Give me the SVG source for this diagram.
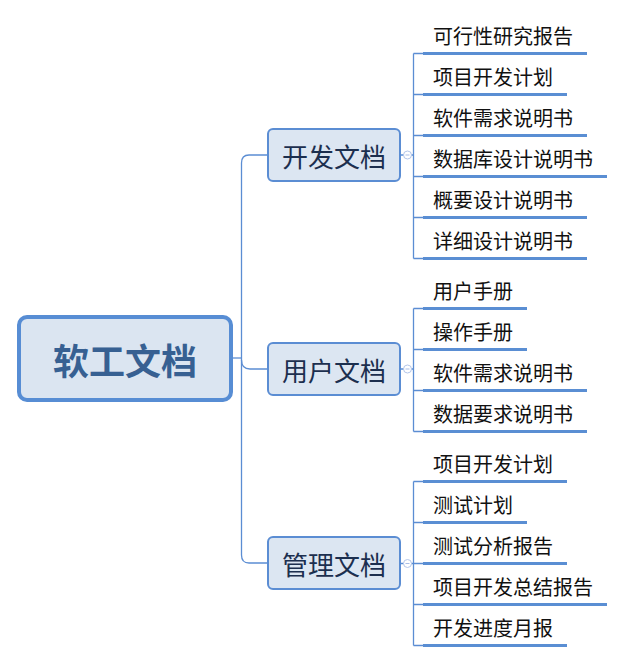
<svg xmlns="http://www.w3.org/2000/svg" width="624" height="662" viewBox="0 0 624 662">
<style>
.conn{fill:none;stroke:#5b8dd3;stroke-width:1.3}
.ul{fill:none;stroke:#5a8ed3;stroke-width:3}
.root{fill:#dbe5f1;stroke:#578dd4;stroke-width:4}
.br{fill:#dce6f2;stroke:#5b8dd3;stroke-width:2}
.rt{font-family:"Noto Sans CJK SC",sans-serif;font-weight:bold;font-size:36px;fill:#376092;text-anchor:middle;dominant-baseline:central}
.bt{font-family:"Noto Sans CJK SC",sans-serif;font-size:26px;fill:#1c2f4f;text-anchor:middle;dominant-baseline:central}
.lt{font-family:"Noto Sans CJK SC",sans-serif;font-size:20px;fill:#111;dominant-baseline:central}
.cc{fill:#fff;stroke:#b3c6ea;stroke-width:1}
.cm{stroke:#a9bde6;stroke-width:1}
</style>
<rect width="624" height="662" fill="#fff"/>
<g id="connectors">
<path class="conn" d="M233,358 H241.5"/>
<path class="conn" d="M267,155 H249 Q241.5,155 241.5,163 V555 Q241.5,563 249,563 H267"/>
<path class="conn" d="M241.5,360 Q241.5,369 250,369 H267"/>
<path class="conn" d="M401,155 H413.5 M413.5,53.5 V258.5 M413.5,53.5 H423 M413.5,94.5 H423 M413.5,135.5 H423 M413.5,176.5 H423 M413.5,217.5 H423 M413.5,258.5 H423"/>
<path class="conn" d="M401,369 H413.5 M413.5,308.5 V431.5 M413.5,308.5 H423 M413.5,349.5 H423 M413.5,390.5 H423 M413.5,431.5 H423"/>
<path class="conn" d="M401,563.5 H413.5 M413.5,481.5 V645.5 M413.5,481.5 H423 M413.5,522.5 H423 M413.5,563.5 H423 M413.5,604.5 H423 M413.5,645.5 H423"/>
<g id="collapse">
<circle class="cc" cx="407.5" cy="155" r="4"/><path class="cm" d="M405.5,155 H409.5"/>
<circle class="cc" cx="407.5" cy="369" r="4"/><path class="cm" d="M405.5,369 H409.5"/>
<circle class="cc" cx="407.5" cy="563.5" r="4"/><path class="cm" d="M405.5,563.5 H409.5"/>
</g>
</g>
<g id="root">
<rect class="root" x="19" y="317" width="212" height="83" rx="8"/>
<text class="rt" x="125" y="359">软工文档</text>
</g>
<g id="dev">
<rect class="br" x="268" y="129" width="132" height="52" rx="5"/>
<text class="bt" x="334" y="155">开发文档</text>
</g>
<g id="user">
<rect class="br" x="268" y="343" width="132" height="52" rx="5"/>
<text class="bt" x="334" y="369">用户文档</text>
</g>
<g id="mgmt">
<rect class="br" x="268" y="537" width="132" height="52" rx="5"/>
<text class="bt" x="334" y="563">管理文档</text>
</g>
<g id="dev-items">
<g id="d1"><path class="ul" d="M423,53.5 H587"/><text class="lt" x="433" y="35">可行性研究报告</text></g>
<g id="d2"><path class="ul" d="M423,94.5 H567"/><text class="lt" x="433" y="76">项目开发计划</text></g>
<g id="d3"><path class="ul" d="M423,135.5 H587"/><text class="lt" x="433" y="117">软件需求说明书</text></g>
<g id="d4"><path class="ul" d="M423,176.5 H607"/><text class="lt" x="433" y="158">数据库设计说明书</text></g>
<g id="d5"><path class="ul" d="M423,217.5 H587"/><text class="lt" x="433" y="199">概要设计说明书</text></g>
<g id="d6"><path class="ul" d="M423,258.5 H587"/><text class="lt" x="433" y="240">详细设计说明书</text></g>
</g>
<g id="user-items">
<g id="u1"><path class="ul" d="M423,308.5 H527"/><text class="lt" x="433" y="290">用户手册</text></g>
<g id="u2"><path class="ul" d="M423,349.5 H527"/><text class="lt" x="433" y="331">操作手册</text></g>
<g id="u3"><path class="ul" d="M423,390.5 H587"/><text class="lt" x="433" y="372">软件需求说明书</text></g>
<g id="u4"><path class="ul" d="M423,431.5 H587"/><text class="lt" x="433" y="413">数据要求说明书</text></g>
</g>
<g id="mgmt-items">
<g id="m1"><path class="ul" d="M423,481.5 H567"/><text class="lt" x="433" y="463">项目开发计划</text></g>
<g id="m2"><path class="ul" d="M423,522.5 H527"/><text class="lt" x="433" y="504">测试计划</text></g>
<g id="m3"><path class="ul" d="M423,563.5 H567"/><text class="lt" x="433" y="545">测试分析报告</text></g>
<g id="m4"><path class="ul" d="M423,604.5 H607"/><text class="lt" x="433" y="586">项目开发总结报告</text></g>
<g id="m5"><path class="ul" d="M423,645.5 H567"/><text class="lt" x="433" y="627">开发进度月报</text></g>
</g>
</svg>
